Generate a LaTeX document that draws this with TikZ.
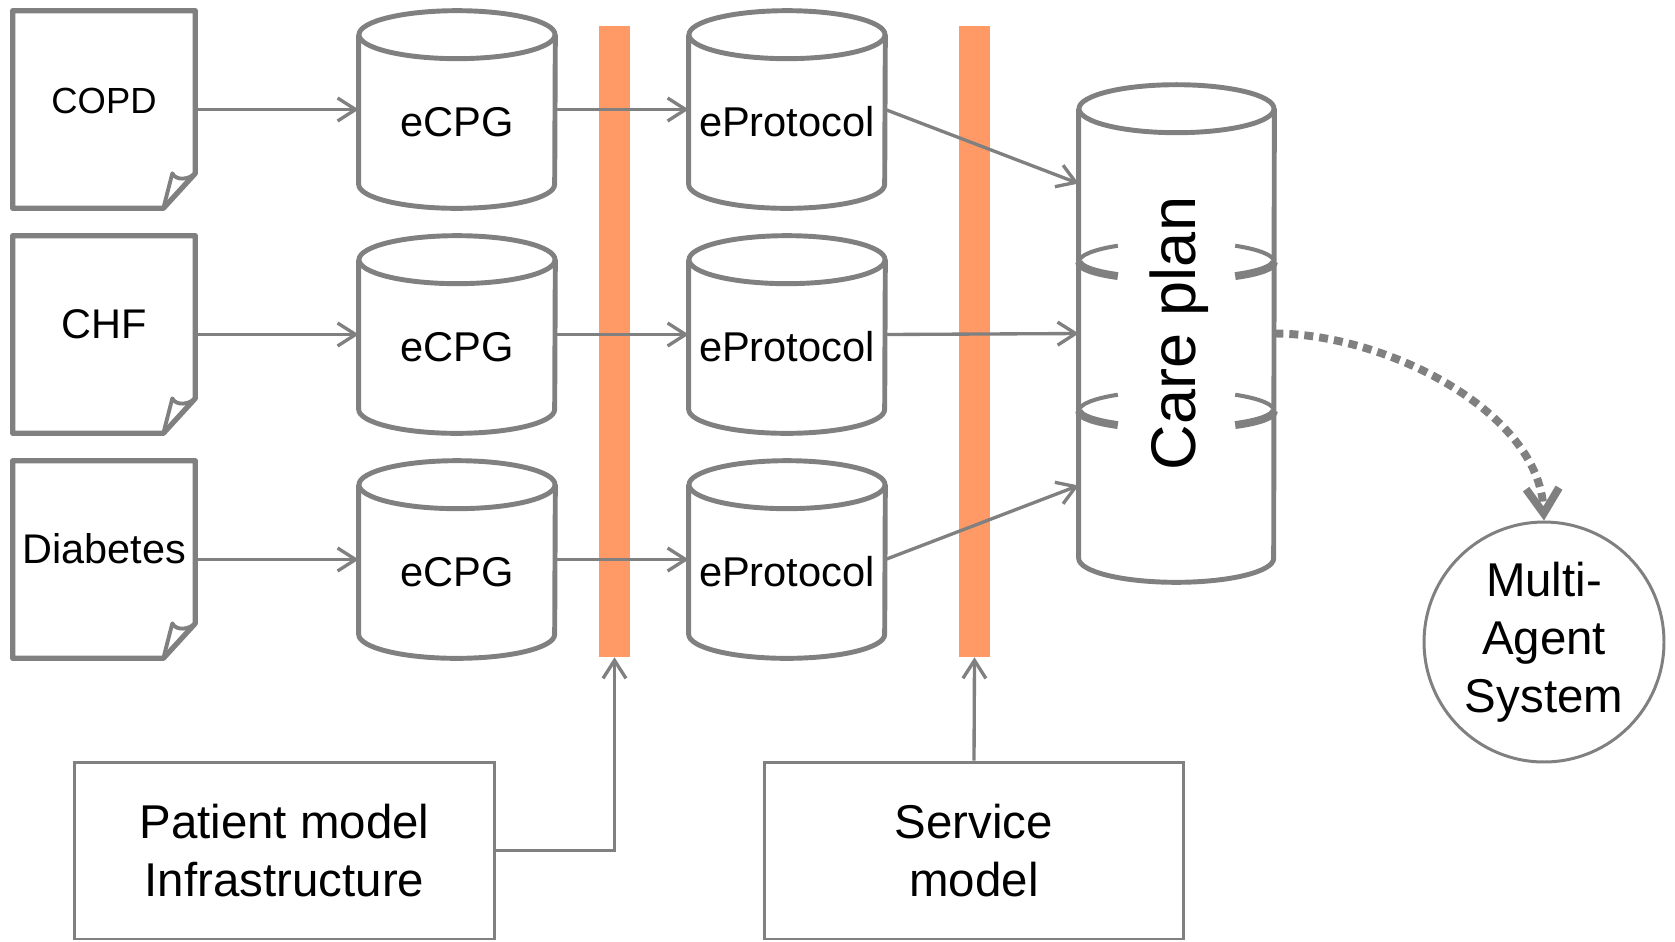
\documentclass[tikz,border=0pt]{standalone}
\usepackage{fontspec}
\setmainfont{Liberation Sans}
\usetikzlibrary{calc,arrows.meta}
\definecolor{linegray}{RGB}{128,128,128}
\definecolor{barorange}{RGB}{255,153,102}

\newcommand{\docshape}[1]{%
  \draw[docline] (#1.north west) -- (#1.north east) -- ($(#1.south east)+(0,-35)$)
    -- ($(#1.south east)+(-32,0)$) -- (#1.south west) -- cycle;
  \draw[foldline] ($(#1.south east)+(-32,0)$) -- ($(#1.south east)+(-23,-35)$)
    .. controls ($(#1.south east)+(-19,-27)$) and ($(#1.south east)+(-6,-29)$) .. ($(#1.south east)+(0,-35)$);}
\newcommand{\cylshape}[2]{%
  \draw[cylline] ($(#1.north)+(0,24)$) ellipse[x radius=#2, y radius=24];
  \draw[cylline] ($(#1.north west)+(0,24)$) -- ($(#1.south west)+(0,-24)$)
    arc[start angle=180, end angle=0, x radius=#2, y radius=24] -- ($(#1.north east)+(0,24)$);}
\newcommand{\careband}[1]{%
  \draw[bandthin] ($(#1)+(-97.5,0)$) arc[start angle=180, end angle=233, x radius=97.5, y radius=20];
  \draw[bandthick] ($(#1)+(-97.5,0)$) arc[start angle=180, end angle=127, x radius=97.5, y radius=18];
  \draw[bandthin] ($(#1)+(97.5,0)$) arc[start angle=0, end angle=-53, x radius=97.5, y radius=20];
  \draw[bandthick] ($(#1)+(97.5,0)$) arc[start angle=0, end angle=53, x radius=97.5, y radius=18];}

\begin{document}
\begin{tikzpicture}[x=0.02cm, y=-0.02cm,
    docbox/.style={minimum width=3.64cm, minimum height=3.94cm, inner sep=0pt,
      text height=2.04cm, text depth=1.9cm, font=\fontsize{23.6}{28}\selectfont},
    cylbox/.style={minimum width=3.92cm, minimum height=3.94cm, inner sep=0pt,
      text height=2.5cm, text depth=1.44cm, font=\fontsize{23.7}{28}\selectfont},
    docline/.style={draw=linegray, line width=3pt, line join=round},
    foldline/.style={draw=linegray, line width=2.2pt, line join=round},
    cylline/.style={draw=linegray, line width=2.8pt},
    bandthin/.style={draw=linegray, line width=2.3pt},
    bandthick/.style={draw=linegray, line width=4.5pt},
    bar/.style={fill=barorange, minimum width=0.62cm, minimum height=12.62cm, inner sep=0pt},
    modelbox/.style={draw=linegray, line width=1.7pt, minimum width=8.42cm, minimum height=3.54cm,
      inner sep=0pt, align=center, font=\fontsize{27}{33}\selectfont},
    agentnode/.style={circle, draw=linegray, line width=1.7pt, minimum size=4.8cm, inner sep=0pt,
      align=center, font=\fontsize{27}{33}\selectfont},
    arr/.style={draw=linegray, line width=1.9pt, -{Straight Barb[length=0.36cm, width=0.46cm]}},
    dotarr/.style={draw=linegray, line width=4.5pt, dash pattern=on 0.18cm off 0.12cm,
      -{Straight Barb[length=0.5cm, width=0.66cm]}}]
  \useasboundingbox (0,0) rectangle (1675,941);

  \node[bar] (bar1) at (614.5,341.5) {};
  \node[bar] (bar2) at (974.5,341.5) {};

  \node[docbox, font=\fontsize{20.7}{24}\selectfont] (copd) at (104,109.5) {COPD};
  \node[docbox] (chf) at (104,334.5) {CHF};
  \node[docbox] (diab) at (104,559.5) {Diabetes};
  \docshape{copd}
  \docshape{chf}
  \docshape{diab}

  \node[cylbox] (cpg1) at (457,109.5) {eCPG};
  \node[cylbox] (cpg2) at (457,334.5) {eCPG};
  \node[cylbox] (cpg3) at (457,559.5) {eCPG};
  \node[cylbox] (prot1) at (787,109.5) {eProtocol};
  \node[cylbox] (prot2) at (787,334.5) {eProtocol};
  \node[cylbox] (prot3) at (787,559.5) {eProtocol};
  \cylshape{cpg1}{98}
  \cylshape{cpg2}{98}
  \cylshape{cpg3}{98}
  \cylshape{prot1}{98}
  \cylshape{prot2}{98}
  \cylshape{prot3}{98}

  \node[minimum width=3.9cm, minimum height=9.94cm, inner sep=0pt] (care) at (1176.5,333.5) {};
  \cylshape{care}{97.5}
  \coordinate (band1) at ($(care.north)+(0,177)$);
  \coordinate (band2) at ($(care.north)+(0,326)$);
  \careband{band1}
  \careband{band2}
  \node[rotate=90, font=\fontsize{35.9}{40}\selectfont] (caretitle) at ($(care.center)+(3,0)$) {Care plan};

  \node[agentnode] (mas) at (1544,642) {Multi-\\Agent\\System};

  \node[modelbox] (patient) at (284.5,850.5) {Patient model\\Infrastructure};
  \node[modelbox, minimum width=8.4cm] (service) at (974,850.5) {Service\\model};

  \draw[arr] (copd.east) -- (cpg1.west);
  \draw[arr] (chf.east) -- (cpg2.west);
  \draw[arr] (diab.east) -- (cpg3.west);
  \draw[arr] (cpg1.east) -- (prot1.west);
  \draw[arr] (cpg2.east) -- (prot2.west);
  \draw[arr] (cpg3.east) -- (prot3.west);
  \draw[arr] (prot1.east) -- ($(care.west)+(0,-150)$);
  \draw[arr] (prot2.east) -- (care.west);
  \draw[arr] (prot3.east) -- ($(care.west)+(0,152)$);
  \draw[arr] (patient.east) -| (bar1.south);
  \draw[arr] (service.north) -- (bar2.south);
  \draw[dotarr] (care.east) .. controls +(110,0) and +(-5,-110) .. (mas.north);
\end{tikzpicture}
\end{document}
